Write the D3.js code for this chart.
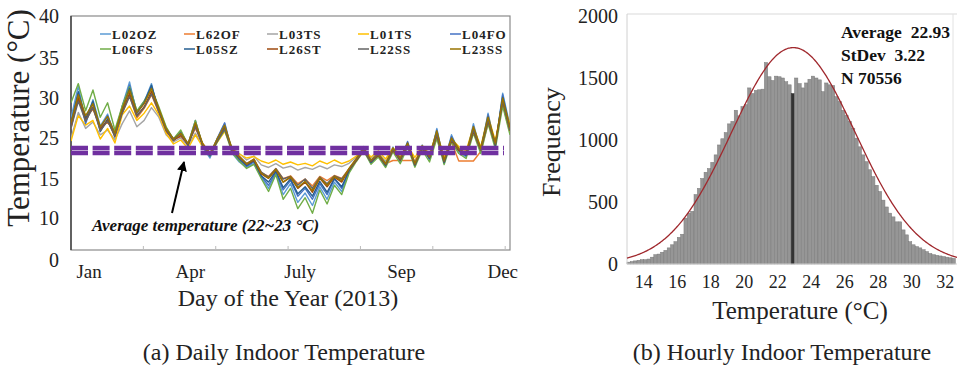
<!DOCTYPE html>
<html>
<head>
<meta charset="utf-8">
<script src="https://cdn.jsdelivr.net/npm/d3@7"></script>
<style>
  html, body { margin: 0; padding: 0; background: #fff; }
  svg { display: block; font-family: "Liberation Serif", "DejaVu Serif", serif; }
</style>
</head>
<body>
<div id="chart"></div>
<script>
// ---- (a) daily indoor temperature, one value every ~6 days ----
const seriesNames = ["L02OZ","L62OF","L03TS","L01TS","L04FO","L06FS","L05SZ","L26ST","L22SS","L23SS"];
const seriesColors = ["#5B9BD5","#ED7D31","#A5A5A5","#FFC000","#4472C4","#70AD47","#255E91","#9E480E","#636363","#997300"];

const L02OZ = [27.5,31.5,27,29.8,26.5,28,25,29,32,28,29.5,31.8,28,26.2,24.2,25.8,23.2,27,23.2,21,24.8,26.8,22,20.2,18.6,19.8,15.6,13.8,16.9,13,14.4,12,13.2,11.6,14,12.4,14.6,13.4,17.2,20.9,23,19.8,22,18.9,23.2,20.1,24.1,19,23.6,20.6,26.2,19.8,25.4,22.2,21.2,26.8,22.3,28.1,23.2,30.6,26.5];
const L62OF = [26.2,30.2,27.6,28.6,26.3,27,25.7,28.1,30.3,27.5,28.7,30.4,28.2,25.8,24.9,25.1,23.9,26.2,23.9,21.9,24.3,26,22.9,21.4,19.8,20.8,17,15.8,18.3,15.1,16,14.4,15,14.1,15.8,14.8,16.1,15.2,18.2,20.8,22.3,20.5,21.4,19.8,20.5,20.5,20.5,20.5,22.6,21.3,25,20.6,24.2,20.4,20.4,20.4,22.3,26.8,23.9,29.3,25.8];
const L03TS = [25,28.2,26.2,27,25.4,26,24.6,26.8,28.4,26.4,27.2,28.8,27.6,25.4,24.2,25,23.4,25.6,23.6,22,24.9,26.1,23,21.9,20.6,21.4,19.4,18.6,19.8,18.4,19,17.8,18.6,18,19.1,18.2,19.4,18.9,19.9,21.2,22.9,21,22,20.3,22.9,21.2,23.8,20.2,23.2,21.6,25.1,20.9,24.4,22.9,22.1,25.6,22.9,26.9,24,29.2,25.7];
const L01TS = [24.4,27.8,26.6,27.2,24.8,26.2,24,27.9,29,27.2,28.1,29.4,27.9,25.6,23.8,24.6,22.9,25.4,23.2,21.8,24.2,25.8,22.8,21.8,21,21.3,20.4,19.9,20.6,19.6,20.2,19.4,19.9,19.1,20.4,19.7,20.6,19.8,20.4,21.4,22.8,21.2,22.4,20.8,23,21.6,23.4,21.1,23.5,21.8,25.6,21.2,24.8,23.3,22.4,26.4,23.2,27.8,24.4,29.5,26.8];
const L04FO = [27,30.6,26.8,29.4,26.2,27.8,25.6,28.9,31.6,28.3,29.6,31.4,28.6,26.3,24.7,25.8,23.8,27.2,23.4,21.3,25,26.9,22.4,20.6,18.9,20.2,15.9,14.2,17.1,13.6,14.8,12.8,13.8,12.4,14.4,13,15,13.8,17.5,20.7,23.3,20,21.8,19.1,23,20.4,24.3,19.2,23.4,20.8,26,20,25.2,22.6,21.4,26.5,22.5,27.9,23.4,30.4,26.2];
const L06FS = [29.4,31.8,28.4,31,27.6,29.4,26,29,31.4,28.4,29.6,31.2,28.9,26.4,24.8,26,23.6,27.2,23.4,21.4,24.2,26,22.1,20.4,18.3,19.6,15.2,13.4,16.4,12.4,13.8,11.2,12.6,10.6,13.6,11.8,14.2,13,16.8,20.3,22.4,19.6,21.2,18.6,22.2,19.8,23.2,18.7,22.6,20.2,24.9,19.5,24.2,21.9,20.9,25.6,21.9,26.8,22.8,29,25.4];
const L05SZ = [26.8,30.8,27.4,29.6,25.8,27.4,25.5,28.4,31.2,28.1,29.4,31.6,28.4,26.1,24.8,25.6,23.5,26.8,23.6,21.5,24.6,26.4,22.7,20.8,19.2,20.4,16,14.6,17.5,13.9,15,13.1,14,12.8,14.7,13.3,15.2,14,17.6,20.6,22.8,20.1,21.7,19.2,22.8,20.6,23.9,19.3,23.1,20.9,25.6,20.1,24.8,22.5,21.5,26.2,22.7,27.6,23.5,30.1,26.1];
const L26ST = [26.4,30,27.2,28.9,26.1,27.2,25.2,28.2,30.6,27.8,28.9,30.8,28.4,25.9,24.5,25.3,23.7,26.5,23.5,21.7,24.4,26.2,22.5,21.1,19.6,20.5,16.6,15.2,17.9,14.6,15.5,13.8,14.6,13.3,15.2,14,15.6,14.6,17.9,20.5,22.5,20.3,21.5,19.5,22.5,20.6,23.5,19.5,22.9,21.1,25.3,20.3,24.5,22.5,21.7,25.8,22.6,27.1,23.7,29.6,25.9];
const L22SS = [26.2,29.6,27.1,28.8,25.9,27.1,25.3,28.1,30.2,27.7,28.8,30.5,28.3,26,24.6,25.5,23.8,26.4,23.7,21.8,24.5,26.1,22.7,21.2,19.8,20.7,17.2,15.6,18.2,15,15.8,14.2,15,13.8,15.6,14.4,16,15,18.1,20.7,22.6,20.4,21.7,19.7,22.7,20.8,23.7,19.7,23.1,21.2,25.5,20.4,24.6,22.8,21.8,26,22.7,27.2,23.8,29.7,26];
const L23SS = [26.9,30.4,27.8,29.3,26.4,27.7,25.6,28.7,31,28.2,29.3,31.2,28.7,26.2,24.8,25.6,23.9,26.9,23.9,21.9,24.9,26.6,22.9,21.3,19.7,20.8,16.8,15.3,18,14.6,15.7,13.9,14.7,13.5,15.4,14.2,15.8,14.8,18.3,20.9,23,20.6,21.9,19.8,23,21,24,19.9,23.4,21.4,25.9,20.6,25,22.9,21.9,26.4,22.9,27.6,24,30,26.3];
const seriesValues = [L02OZ,L62OF,L03TS,L01TS,L04FO,L06FS,L05SZ,L26ST,L22SS,L23SS];

const monthLabels = ["Jan","Apr","July","Sep","Dec"];
const monthDays = [16, 100, 191, 275, 359];
const dayTicks = [61, 121, 181, 241, 301, 361];
const tempTicks = [0, 10, 15, 25, 30, 35, 40];
const avgBand = [22, 23];

// ---- (b) hourly indoor temperature histogram, 0.2 °C bins ----
const binStart = 13.0, binWidth = 0.2;
const binCounts = [15,20,25,30,35,35,40,55,75,80,95,110,130,155,180,215,240,370,410,425,
  560,610,690,740,770,820,880,960,1010,1060,1130,1150,1240,1195,1270,1285,1420,1375,1400,1405,
  1410,1625,1510,1480,1515,1510,1500,1470,1445,1375,1500,1455,1420,1460,1490,1515,1500,1485,1390,1460,
  1445,1440,1350,1310,1240,1200,1150,1095,1015,945,880,825,760,705,635,585,515,460,410,380,
  340,340,275,235,180,155,140,130,115,100,85,75,70,65,60,55,50,45];
const meanBin = 49;
const statLines = ["Average  22.93", "StDev  3.22", "N 70556"];
const fitMean = 22.93, fitWidth = 3.7, fitPeak = 1745;
const freqTicks = [0, 500, 1000, 1500, 2000];
const histTempTicks = [14, 16, 18, 20, 22, 24, 26, 28, 30, 32];

const W = 957, H = 368;
const svg = d3.select("#chart").append("svg").attr("width", W).attr("height", H);

// ================= left panel =================
const xL = d3.scaleLinear().domain([1, 365]).range([71, 510]);
const yL = d3.scaleLinear().domain([0, 10, 15, 20, 25, 30, 35, 40]).range([260, 218, 179, 163, 138, 98, 58, 16]);

svg.append("clipPath").attr("id", "clipL").append("rect")
  .attr("x", 71).attr("y", 16).attr("width", 439).attr("height", 234);

const left = svg.append("g");
left.append("rect").attr("x", 71).attr("y", 16).attr("width", 439).attr("height", 234)
  .attr("fill", "#fff").attr("stroke", "#8a8a8a").attr("stroke-width", 1.2);
left.append("line").attr("x1", 71).attr("x2", 71).attr("y1", 16).attr("y2", 250)
  .attr("stroke", "#333").attr("stroke-width", 1.3);

left.selectAll(".dtick").data(dayTicks).join("line")
  .attr("x1", d => xL(d)).attr("x2", d => xL(d)).attr("y1", 246).attr("y2", 250)
  .attr("stroke", "#bbb");

const line = d3.line().x((d, i) => xL(1 + i * 6.0667)).y(d => yL(d));
left.append("g").attr("clip-path", "url(#clipL)")
  .selectAll("path").data(seriesValues).join("path")
  .attr("d", d => line(d))
  .attr("fill", "none")
  .attr("stroke", (d, i) => seriesColors[i])
  .attr("stroke-width", 1.4)
  .attr("stroke-linejoin", "round");

// average band: two thick purple dashed lines
left.selectAll(".avg").data(avgBand).join("line")
  .attr("x1", xL(1)).attr("x2", xL(360))
  .attr("y1", d => yL(d)).attr("y2", d => yL(d))
  .attr("stroke", "#7030A0").attr("stroke-width", 4.5)
  .attr("stroke-dasharray", "17,4.6");

left.selectAll(".ylab").data(tempTicks).join("text")
  .attr("x", 59).attr("y", d => yL(d)).attr("dy", "0.35em")
  .attr("text-anchor", "end").attr("font-size", 20).attr("fill", "#222")
  .text(d => d);

left.selectAll(".xlab").data(monthLabels).join("text")
  .attr("x", (d, i) => xL(monthDays[i])).attr("y", 278)
  .attr("text-anchor", "middle").attr("font-size", 19).attr("fill", "#222")
  .text(d => d);

left.append("text").attr("transform", "translate(29,118) rotate(-90)")
  .attr("text-anchor", "middle").attr("font-size", 31).attr("fill", "#222")
  .text("Temperature (°C)");
left.append("text").attr("x", 288).attr("y", 306)
  .attr("text-anchor", "middle").attr("font-size", 24).attr("fill", "#222")
  .text("Day of the Year (2013)");
left.append("text").attr("x", 284).attr("y", 360)
  .attr("text-anchor", "middle").attr("font-size", 24).attr("fill", "#222")
  .text("(a) Daily Indoor Temperature");

// legend, 2 rows x 5 columns
const legendX = [100, 184, 267, 358, 450];
const leg = left.selectAll(".leg").data(seriesNames).join("g")
  .attr("transform", (d, i) => `translate(${legendX[i % 5]},${i < 5 ? 34 : 49})`);
leg.append("line").attr("x1", 0).attr("x2", 11).attr("y1", 0).attr("y2", 0)
  .attr("stroke", (d, i) => seriesColors[i]).attr("stroke-width", 1.5);
leg.append("text").attr("x", 12).attr("dy", "0.35em")
  .attr("font-size", 13).attr("font-weight", "bold").attr("letter-spacing", 1).attr("fill", "#222")
  .text(d => d);

// annotation
svg.append("defs").append("marker").attr("id", "arr")
  .attr("viewBox", "0 0 10 10").attr("refX", 9).attr("refY", 5)
  .attr("markerWidth", 5).attr("markerHeight", 5).attr("orient", "auto")
  .append("path").attr("d", "M0,0L10,5L0,10z").attr("fill", "#000");
left.append("line").attr("x1", 172).attr("y1", 213).attr("x2", 184).attr("y2", 162)
  .attr("stroke", "#000").attr("stroke-width", 2).attr("marker-end", "url(#arr)");
left.append("text").attr("x", 92).attr("y", 231)
  .attr("font-size", 17).attr("font-style", "italic").attr("font-weight", "bold").attr("fill", "#111")
  .text("Average temperature (22~23 °C)");

// ================= right panel =================
const xR = d3.scaleLinear().domain([13, 32.7]).range([627, 957]);
const yR = d3.scaleLinear().domain([0, 2000]).range([264, 16]);

const right = svg.append("g");
right.append("line").attr("x1", 627).attr("x2", 957).attr("y1", 14).attr("y2", 14).attr("stroke", "#d9d9d9");
right.append("line").attr("x1", 953).attr("x2", 953).attr("y1", 14).attr("y2", 264).attr("stroke", "#e2e2e2");

right.selectAll(".bar").data(binCounts).join("rect")
  .attr("x", (d, i) => xR(binStart + i * binWidth))
  .attr("width", xR(binStart + binWidth) - xR(binStart))
  .attr("y", d => yR(d))
  .attr("height", d => yR(0) - yR(d))
  .attr("fill", (d, i) => i === meanBin ? "#333" : "#969696")
  .attr("stroke", (d, i) => i === meanBin ? "#333" : "#7a7a7a")
  .attr("stroke-width", 0.5);

right.append("line").attr("x1", 627).attr("x2", 627).attr("y1", 14).attr("y2", 264).attr("stroke", "#d0d0d0");
right.append("line").attr("x1", 627).attr("x2", 957).attr("y1", 264).attr("y2", 264).attr("stroke", "#d0d0d0");

// fitted normal curve
const fitT = d3.range(13, 32.71, 0.05);
right.append("path")
  .attr("d", d3.line().x(t => xR(t)).y(t => yR(fitPeak * Math.exp(-0.5 * ((t - fitMean) / fitWidth) ** 2)))(fitT))
  .attr("fill", "none").attr("stroke", "#A0282D").attr("stroke-width", 1.3);

right.selectAll(".fl").data(freqTicks).join("text")
  .attr("x", 618).attr("y", d => yR(d)).attr("dy", "0.35em")
  .attr("text-anchor", "end").attr("font-size", 20).attr("fill", "#222")
  .text(d => d);
right.selectAll(".tl").data(histTempTicks).join("text")
  .attr("x", d => xR(d)).attr("y", 288)
  .attr("text-anchor", "middle").attr("font-size", 18).attr("fill", "#222")
  .text(d => d);

right.append("text").attr("transform", "translate(560,142) rotate(-90)")
  .attr("text-anchor", "middle").attr("font-size", 26).attr("fill", "#222")
  .text("Frequency");
right.append("text").attr("x", 800).attr("y", 319)
  .attr("text-anchor", "middle").attr("font-size", 25).attr("fill", "#222")
  .text("Temperature (°C)");
right.append("text").attr("x", 782).attr("y", 360)
  .attr("text-anchor", "middle").attr("font-size", 24).attr("fill", "#222")
  .text("(b) Hourly Indoor Temperature");

right.selectAll(".stat").data(statLines).join("text")
  .attr("x", 841).attr("y", (d, i) => 38 + i * 23)
  .attr("font-size", 17.5).attr("font-weight", "bold").attr("fill", "#111")
  .attr("xml:space", "preserve").style("white-space", "pre")
  .text(d => d);
</script>
</body>
</html>
